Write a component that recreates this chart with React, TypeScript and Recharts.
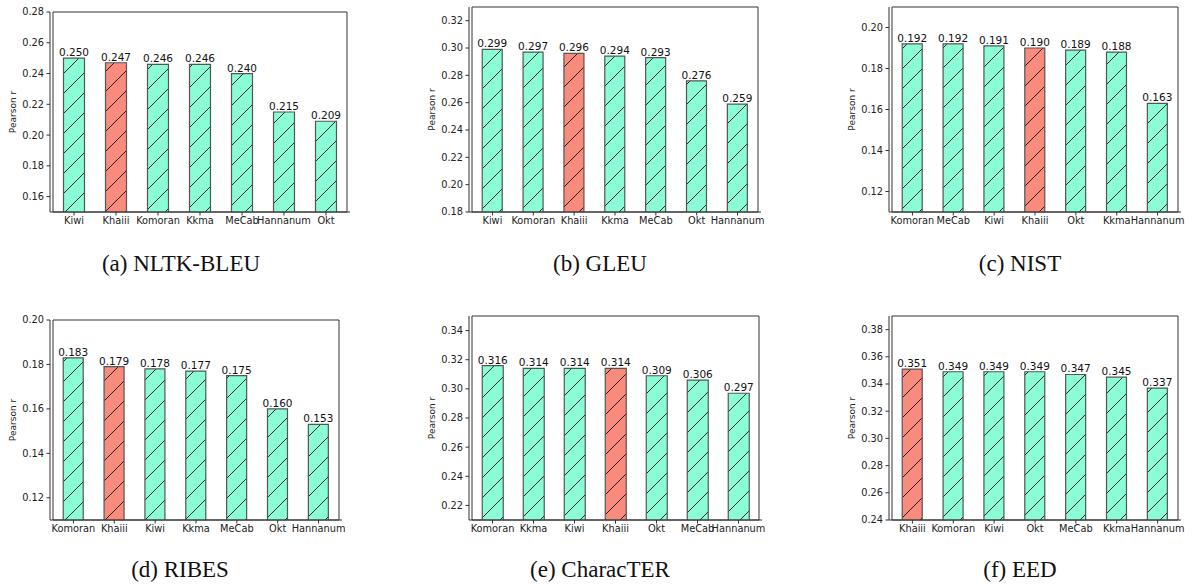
import React from 'react'
import { BarChart, Bar, XAxis, YAxis, Cell, LabelList, ReferenceArea } from 'recharts'

// values (Pearson r per tokenizer)
const catsA = ['Kiwi', 'Khaiii', 'Komoran', 'Kkma', 'MeCab', 'Hannanum', 'Okt']
const valsA = [0.25, 0.247, 0.246, 0.246, 0.24, 0.215, 0.209]
const ticksA = [0.16, 0.18, 0.2, 0.22, 0.24, 0.26, 0.28]

const catsB = ['Kiwi', 'Komoran', 'Khaiii', 'Kkma', 'MeCab', 'Okt', 'Hannanum']
const valsB = [0.299, 0.297, 0.296, 0.294, 0.293, 0.276, 0.259]
const ticksB = [0.18, 0.2, 0.22, 0.24, 0.26, 0.28, 0.3, 0.32]

const catsC = ['Komoran', 'MeCab', 'Kiwi', 'Khaiii', 'Okt', 'Kkma', 'Hannanum']
const valsC = [0.192, 0.192, 0.191, 0.19, 0.189, 0.188, 0.163]
const ticksC = [0.12, 0.14, 0.16, 0.18, 0.2]

const catsD = ['Komoran', 'Khaiii', 'Kiwi', 'Kkma', 'MeCab', 'Okt', 'Hannanum']
const valsD = [0.183, 0.179, 0.178, 0.177, 0.175, 0.16, 0.153]
const ticksD = [0.12, 0.14, 0.16, 0.18, 0.2]

const catsE = ['Komoran', 'Kkma', 'Kiwi', 'Khaiii', 'Okt', 'MeCab', 'Hannanum']
const valsE = [0.316, 0.314, 0.314, 0.314, 0.309, 0.306, 0.297]
const ticksE = [0.22, 0.24, 0.26, 0.28, 0.3, 0.32, 0.34]

const catsF = ['Khaiii', 'Komoran', 'Kiwi', 'Okt', 'MeCab', 'Kkma', 'Hannanum']
const valsF = [0.351, 0.349, 0.349, 0.349, 0.347, 0.345, 0.337]
const ticksF = [0.24, 0.26, 0.28, 0.3, 0.32, 0.34, 0.36, 0.38]

const GREEN = '#8AFCD6'
const RED = '#F98B7C'
const FONT = 'DejaVu Sans'

type PanelProps = {
  id: string
  cats: string[]
  vals: number[]
  ticks: number[]
  domain: [number, number]
  box: [number, number, number, number] // plot area x0, y0, x1, y1
}

const ML = 55
const MT = 10

function Panel({ id, cats, vals, ticks, domain, box }: PanelProps) {
  const data = cats.map((c, i) => ({ name: c, value: vals[i] }))
  const [x0, y0, x1, y1] = box
  const w = x1 - x0 + ML + 10
  const h = y1 - y0 + MT + 30
  const band = (x1 - x0) / 7.15
  const pad = Math.round(band * 0.075)

  const yLabel = ({ viewBox }: any) => {
    const cx = viewBox.x + viewBox.width - 37
    const cy = viewBox.y + viewBox.height / 2
    return (
      <text x={cx} y={cy} transform={`rotate(-90 ${cx} ${cy})`} textAnchor="middle"
        dominantBaseline="central" fontSize={9} fontFamily={FONT} fill="#222">
        Pearson r
      </text>
    )
  }

  return (
    <div style={{ position: 'absolute', left: x0 - ML, top: y0 - MT }}>
      <BarChart width={w} height={h} data={data} barCategoryGap="25%"
        margin={{ top: MT, right: 10, left: 0, bottom: 0 }}>
        <defs>
          {[['g', GREEN], ['r', RED]].map(([k, col]) => (
            <pattern key={k} id={`${id}-${k}`} patternUnits="userSpaceOnUse" width={20} height={20}>
              <rect width={20} height={20} fill={col} />
              <path d="M0,20 L20,0 M-5,5 L5,-5 M15,25 L25,15" stroke="#111" strokeWidth={0.9} />
            </pattern>
          ))}
        </defs>
        <XAxis dataKey="name" interval={0} padding={{ left: pad, right: pad }} height={30}
          tickSize={3.5} tickMargin={2} stroke="#333"
          tick={{ fontSize: 9.8, fill: '#222', fontFamily: FONT }} />
        <YAxis type="number" domain={domain} ticks={ticks} allowDataOverflow width={ML}
          tickSize={3.5} tickMargin={2.5} stroke="#333"
          tickFormatter={(v: number) => v.toFixed(2)}
          tick={{ fontSize: 9.8, fill: '#222', fontFamily: FONT }}
          label={{ content: yLabel }} />
        <Bar dataKey="value" isAnimationActive={false}>
          {data.map((d, i) => (
            <Cell key={i} fill={`url(#${id}-${d.name === 'Khaiii' ? 'r' : 'g'})`}
              stroke="#555" strokeWidth={1.2} />
          ))}
          <LabelList dataKey="value" position="top" offset={2}
            formatter={(v: any) => Number(v).toFixed(3)}
            style={{ fontSize: 10.5, fill: '#111', fontFamily: FONT }} />
        </Bar>
        <ReferenceArea y1={domain[0]} y2={domain[1]} fill="none" stroke="#333" strokeWidth={1}
          ifOverflow="visible" />
      </BarChart>
    </div>
  )
}

const captionStyle = (cx: number, top: number): React.CSSProperties => ({
  position: 'absolute',
  left: cx - 150,
  width: 300,
  top,
  textAlign: 'center',
  fontFamily: '"Liberation Serif", "Times New Roman", "DejaVu Serif", serif',
  fontSize: 23,
  lineHeight: 1,
  color: '#111',
})

export default function App() {
  return (
    <div style={{ position: 'absolute', left: 0, top: 0, width: 1196, height: 584, background: '#fff' }}>
      <Panel id="a" cats={catsA} vals={valsA} ticks={ticksA} domain={[0.15, 0.28]} box={[50, 12, 350, 212]} />
      <Panel id="b" cats={catsB} vals={valsB} ticks={ticksB} domain={[0.18, 0.33]} box={[469, 7, 761, 212]} />
      <Panel id="c" cats={catsC} vals={valsC} ticks={ticksC} domain={[0.11, 0.21]} box={[889, 7, 1181, 212]} />
      <Panel id="d" cats={catsD} vals={valsD} ticks={ticksD} domain={[0.11, 0.2]} box={[50, 320, 342, 520]} />
      <Panel id="e" cats={catsE} vals={valsE} ticks={ticksE} domain={[0.21, 0.35]} box={[469, 316, 762, 520]} />
      <Panel id="f" cats={catsF} vals={valsF} ticks={ticksF} domain={[0.24, 0.39]} box={[889, 316, 1181, 520]} />
      <div style={captionStyle(181, 252)}>(a) NLTK-BLEU</div>
      <div style={captionStyle(600, 252)}>(b) GLEU</div>
      <div style={captionStyle(1020, 252)}>(c) NIST</div>
      <div style={captionStyle(180, 558)}>(d) RIBES</div>
      <div style={captionStyle(600, 558)}>(e) CharacTER</div>
      <div style={captionStyle(1020, 558)}>(f) EED</div>
    </div>
  )
}
